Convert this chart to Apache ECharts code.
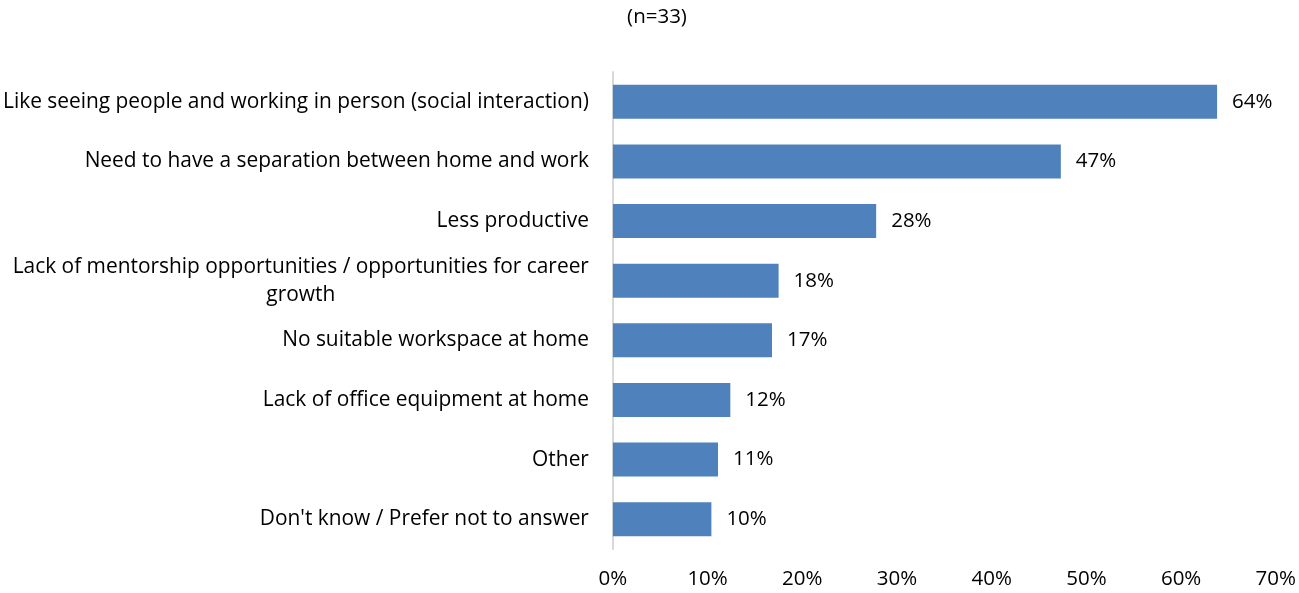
<!DOCTYPE html>
<html>
<head>
<meta charset="utf-8">
<script src="https://cdn.jsdelivr.net/npm/echarts@6/dist/echarts.min.js"></script>
<style>html,body{margin:0;padding:0;background:#fff}#c{width:1299px;height:593px}</style>
</head>
<body>
<div id="c"></div>
<script>
const categories = [
  "Like seeing people and working in person (social interaction)",
  "Need to have a separation between home and work",
  "Less productive",
  "Lack of mentorship opportunities / opportunities for career\ngrowth",
  "No suitable workspace at home",
  "Lack of office equipment at home",
  "Other",
  "Don't know / Prefer not to answer"
];
const values = [63.8, 47.3, 27.8, 17.5, 16.8, 12.4, 11.1, 10.4];
const titleText = "(n=33)";
const xTicks = [0, 10, 20, 30, 40, 50, 60, 70];

const FONT = "Open Sans";
const FS = 20.5;
const CFS = 20.9;
const chart = echarts.init(document.getElementById('c'), null, {renderer: 'canvas'});
chart.setOption({
  animation: false,
  backgroundColor: '#fff',
  title: {
    text: titleText, left: 652, top: 2, textAlign: 'center',
    textStyle: {fontFamily: FONT, fontSize: FS, fontWeight: 'normal', color: '#000'}
  },
  grid: {left: 612.5, right: 23, top: 72, bottom: 44, containLabel: false},
  xAxis: {
    type: 'value', min: xTicks[0], max: xTicks[xTicks.length - 1], interval: 10,
    axisLine: {show: false}, axisTick: {show: false}, splitLine: {show: false},
    axisLabel: {formatter: v => v + '%', fontFamily: FONT, fontSize: FS, color: '#000', margin: 20}
  },
  yAxis: {
    type: 'category', inverse: true, data: categories,
    axisLine: {show: true, lineStyle: {color: '#D9D9D9', width: 2}},
    axisTick: {show: false},
    axisLabel: {
      margin: 24, color: '#000', fontFamily: FONT, fontSize: CFS, lineHeight: 28,
      formatter: v => v.split('\n').map(s => '{c|' + s + '}').join('\n'),
      rich: {c: {align: 'center', fontFamily: FONT, fontSize: CFS, color: '#000', lineHeight: 28}}
    }
  },
  series: [{
    type: 'bar', data: values, barWidth: 34,
    itemStyle: {color: '#4F81BD'},
    label: {
      show: true, position: 'right', distance: 15,
      formatter: p => Math.round(p.value) + '%',
      fontFamily: FONT, fontSize: FS, color: '#000'
    }
  }]
});
</script>
</body>
</html>
